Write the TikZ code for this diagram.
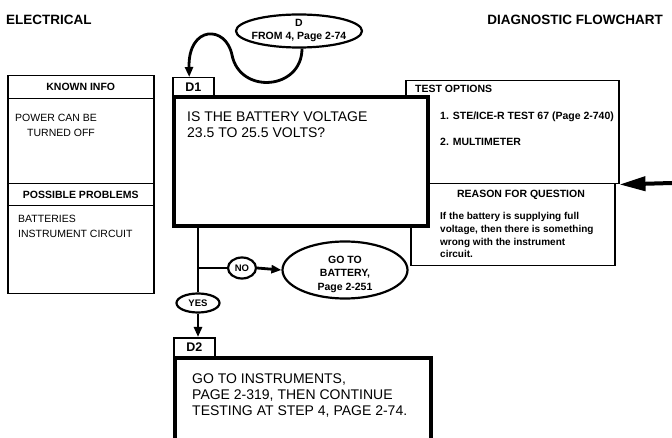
\documentclass[tikz,border=0pt]{standalone}
\usepackage{fontspec}
\setmainfont{Liberation Sans}
\usetikzlibrary{shapes.geometric,arrows.meta}
\begin{document}
\begin{tikzpicture}[x=1pt,y=-1pt,
  thinbox/.style={draw, line width=1.5pt, inner sep=0pt, anchor=north west},
  heavybox/.style={draw, line width=4pt, fill=white, inner sep=0pt, anchor=north west},
  tabbox/.style={draw, line width=1.5pt, fill=white, inner sep=0pt, anchor=north west, font=\bfseries\fontsize{12.5}{14}\selectfont},
  hdr/.style={font=\bfseries\fontsize{13.5}{16}\selectfont, inner sep=0pt},
  lbl/.style={font=\bfseries\fontsize{10.5}{13.5}\selectfont, inner sep=0pt},
  small/.style={font=\bfseries\fontsize{10}{13}\selectfont, inner sep=0pt, anchor=base west},
  body/.style={font=\fontsize{10.5}{13}\selectfont, inner sep=0pt, anchor=base west},
  big/.style={font=\fontsize{14}{16}\selectfont, inner sep=0pt, anchor=base west},
  flow/.style={line width=2.8pt},
  tip/.style={-{Triangle[length=10pt,width=8pt]}},
  oval/.style={draw, ellipse, line width=2.2pt, fill=white, inner sep=0pt},
  tiny/.style={font=\bfseries\fontsize{9.5}{11}\selectfont},
]
\useasboundingbox (0,0) rectangle (672,438);
\fill[white] (0,0) rectangle (672,438);

% headers
\node[hdr, anchor=base west] (elec) at (6,25) {ELECTRICAL};
\node[hdr, anchor=base east] (diag) at (663,25) {DIAGNOSTIC FLOWCHART};

% left info column
\node[thinbox, minimum width=146pt, minimum height=23pt, lbl] (knownhdr) at (7,75) {KNOWN INFO};
\node[thinbox, minimum width=146pt, minimum height=85pt] (knownbody) at (7,98) {};
\node[thinbox, minimum width=146pt, minimum height=22pt, lbl] (probhdr) at (7,183) {POSSIBLE PROBLEMS};
\node[thinbox, minimum width=146pt, minimum height=88pt] (probbody) at (7,205) {};
\node[body] (k1) at (15,122) {POWER CAN BE};
\node[body] (k2) at (27,137) {TURNED OFF};
\node[body] (p1) at (18,223) {BATTERIES};
\node[body] (p2) at (18,238) {INSTRUMENT CIRCUIT};

% right info boxes
\node[thinbox, minimum width=213pt, minimum height=103pt] (opts) at (405,80) {};
\node[thinbox, minimum width=204pt, minimum height=82pt] (reason) at (410,183) {};
\node[lbl, anchor=base west] (optshdr) at (415,93) {TEST OPTIONS};
\node[lbl, anchor=base west] (opt1) at (440,120) {1. STE/ICE-R TEST 67 (Page 2-740)};
\node[lbl, anchor=base west] (opt2) at (440,146) {2. MULTIMETER};
\node[lbl, anchor=base] (reasonhdr) at (521,198) {REASON FOR QUESTION};
\node[small] (r1) at (440,220) {If the battery is supplying full};
\node[small] (r2) at (440,233) {voltage, then there is something};
\node[small] (r3) at (440,246) {wrong with the instrument};
\node[small] (r4) at (440,258) {circuit.};

% D1
\node[heavybox, minimum width=254pt, minimum height=129pt] (d1) at (172,95) {};
\node[tabbox, minimum width=41pt, minimum height=18pt] (d1tab) at (172,77) {D1};
\node[big] (q1) at (187,122) {IS THE BATTERY VOLTAGE};
\node[big] (q2) at (187,138) {23.5 TO 25.5 VOLTS?};

% entry oval
\node[oval, minimum width=126pt, minimum height=33pt] (from) at (299,31) {};
\node[lbl, align=center, font=\bfseries\fontsize{10.5}{13}\selectfont] (fromtxt) at (from.center) {D\\FROM 4, Page 2-74};
\draw[flow, tip] ([xshift=3pt]from.south) .. controls (302,90) and (240,95) .. (232,55)
  .. controls (226,25) and (188,25) .. ([xshift=-4pt]d1tab.north);

% branches
\coordinate (split) at (198,268);
\node[oval, tiny, minimum width=28pt, minimum height=21pt] (no) at (242,268) {NO};
\node[oval, minimum width=125pt, minimum height=57pt] (bat) at (345,270) {};
\node[lbl, align=center] (battxt) at (345,274) {GO TO\\BATTERY,\\Page 2-251};
\node[oval, tiny, minimum width=43pt, minimum height=19pt] (yes) at (198,303) {YES};

% D2
\node[heavybox, minimum width=256pt, minimum height=100pt] (d2) at (173,356) {};
\node[tabbox, minimum width=41pt, minimum height=19pt] (d2tab) at (173,337) {D2};
\node[big] (g1) at (192,383) {GO TO INSTRUMENTS,};
\node[big] (g2) at (192,399) {PAGE 2-319, THEN CONTINUE};
\node[big] (g3) at (192,415) {TESTING AT STEP 4, PAGE 2-74.};

% connectors
\draw[flow] (d1.south -| split) -- (yes.north);
\draw[flow] (split) -- (no.west);
\draw[flow, tip] (no.east) -- (bat.west);
\draw[flow, tip] (yes.south) -- (yes.south |- d2tab.north);

\coordinate (rin) at (672,183);
\draw[line width=4pt, -{Triangle[length=26pt,width=14pt]}] (rin) -- (opts.south east);
\end{tikzpicture}
\end{document}
